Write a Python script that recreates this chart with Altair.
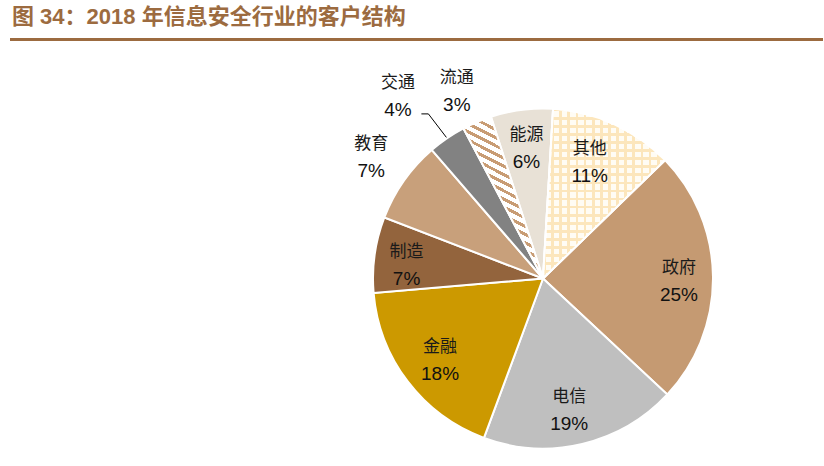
import math
import altair as alt
import pandas as pd

# ---- data ----
names = ["其他", "政府", "电信", "金融", "制造", "教育", "交通", "流通", "能源"]
shares = [11.8, 24.2, 18.7, 18.0, 7.2, 7.8, 3.6, 2.8, 5.9]
pct_labels = ["11%", "25%", "19%", "18%", "7%", "7%", "4%", "3%", "6%"]
title_text = "图 34：2018 年信息安全行业的客户结构"

# ---- styles / layout ----
colors = ["#FFFCF4", "#C59A72", "#BFBFBF", "#CC9900", "#93643D",
          "#C8A07B", "#828282", "#FFFFFF", "#E8E1D6"]
label_radius = [125, 136, 135, 132, 137, 210, 232, 205, 131]
label_shift = [-0.75, 0.55, 0.6, -0.4, -0.8, 0.0, -1.2, -0.55, 0.0]
CX, CY, R = 543, 278.5, 170
START = math.radians(3.4)
BROWN = "#9C6B40"
CJK = "Noto Sans CJK SC"
LAT = "Liberation Sans, Arial, Noto Sans CJK SC"

total = sum(shares)
ends, acc = [], 0.0
for s in shares:
    acc += s
    ends.append(acc)
starts = [e - s for e, s in zip(ends, shares)]
mids = [(a + b) / 2 for a, b in zip(starts, ends)]
df = pd.DataFrame({
    "name": names, "share": shares, "pct": pct_labels,
    "start": starts, "end": ends, "mid": mids,
    "lt": [m + s for m, s in zip(mids, label_shift)],
    "lr": label_radius,
})

theta_scale = alt.Scale(domain=[0, total], range=[START, START + 2 * math.pi])

base = alt.Chart(df)

pie = base.mark_arc(outerRadius=R, stroke="white", strokeWidth=2).encode(
    x=alt.value(CX), y=alt.value(CY),
    theta=alt.Theta("start:Q", scale=theta_scale),
    theta2="end:Q",
    color=alt.Color("name:N", scale=alt.Scale(domain=names, range=colors), legend=None),
)


def stripes(n, line_c, gap_c, frac):
    stops = []
    for i in range(n):
        a = i / n
        b = (i + frac) / n
        c = (i + 1) / n
        stops += [alt.GradientStop(offset=a, color=line_c),
                  alt.GradientStop(offset=b, color=line_c),
                  alt.GradientStop(offset=b, color=gap_c),
                  alt.GradientStop(offset=c, color=gap_c)]
    return stops


cream = "#FCE6BC"
clear = "rgba(255,255,255,0)"
grid_v = alt.LinearGradient(gradient="linear", x1=0, y1=0, x2=1, y2=0,
                            stops=stripes(15, cream, clear, 0.33))
grid_h = alt.LinearGradient(gradient="linear", x1=0, y1=0, x2=0, y2=1,
                            stops=stripes(21, cream, clear, 0.33))
diag = alt.LinearGradient(gradient="linear", x1=0, y1=1, x2=0.25, y2=0,
                          stops=stripes(21, "#C89C74", "#FFFFFF", 0.42))


def overlay(name, fill):
    return base.transform_filter(alt.datum.name == name).mark_arc(
        outerRadius=R, stroke="white", strokeWidth=2, fill=fill
    ).encode(
        x=alt.value(CX), y=alt.value(CY),
        theta=alt.Theta("start:Q", scale=theta_scale), theta2="end:Q",
    )


other_v = overlay("其他", grid_v)
other_h = overlay("其他", grid_h)
flow = overlay("流通", diag)

name_text = base.mark_text(font=CJK, fontSize=17, color="#1a1a1a", dy=-14).encode(
    x=alt.value(CX), y=alt.value(CY),
    theta=alt.Theta("lt:Q", scale=theta_scale),
    radius=alt.Radius("lr:Q", scale=None),
    text="name:N",
)
pct_text = base.mark_text(font=LAT, fontSize=19, color="#111111", dy=13).encode(
    x=alt.value(CX), y=alt.value(CY),
    theta=alt.Theta("lt:Q", scale=theta_scale),
    radius=alt.Radius("lr:Q", scale=None),
    text="pct:N",
)

# leader line for 交通
i = names.index("交通")
ang = START + 2 * math.pi * df["mid"][i] / total
p1 = (CX + (R + 1) * math.sin(ang), CY - (R + 1) * math.cos(ang))
p2 = (p1[0] - 18, p1[1] - 23.5)
p3 = (p2[0] - 7, p2[1])
leader_df = pd.DataFrame({"x": [p1[0], p2[0], p3[0]], "y": [p1[1], p2[1], p3[1]], "o": [0, 1, 2]})
leader = alt.Chart(leader_df).mark_line(color="#000000", strokeWidth=1).encode(
    x=alt.X("x:Q", scale=None), y=alt.Y("y:Q", scale=None), order="o:O"
)

one = pd.DataFrame({"t": [title_text]})
title = alt.Chart(one).mark_text(
    align="left", baseline="alphabetic", fontSize=22, fontWeight="bold",
    color=BROWN, font=LAT,
).encode(x=alt.value(12), y=alt.value(24), text="t:N")
rule = alt.Chart(one).mark_rule(color=BROWN, strokeWidth=3).encode(
    x=alt.value(10), x2=alt.value(823), y=alt.value(39.5)
)

chart = alt.layer(pie, other_v, other_h, flow, leader, name_text, pct_text, title, rule).properties(
    width=824, height=466, autosize=alt.AutoSizeParams(type="none"), padding=0,
    background="white",
).configure_view(stroke=None)

chart.save("out.html", embed_options={"renderer": "svg", "actions": False})
